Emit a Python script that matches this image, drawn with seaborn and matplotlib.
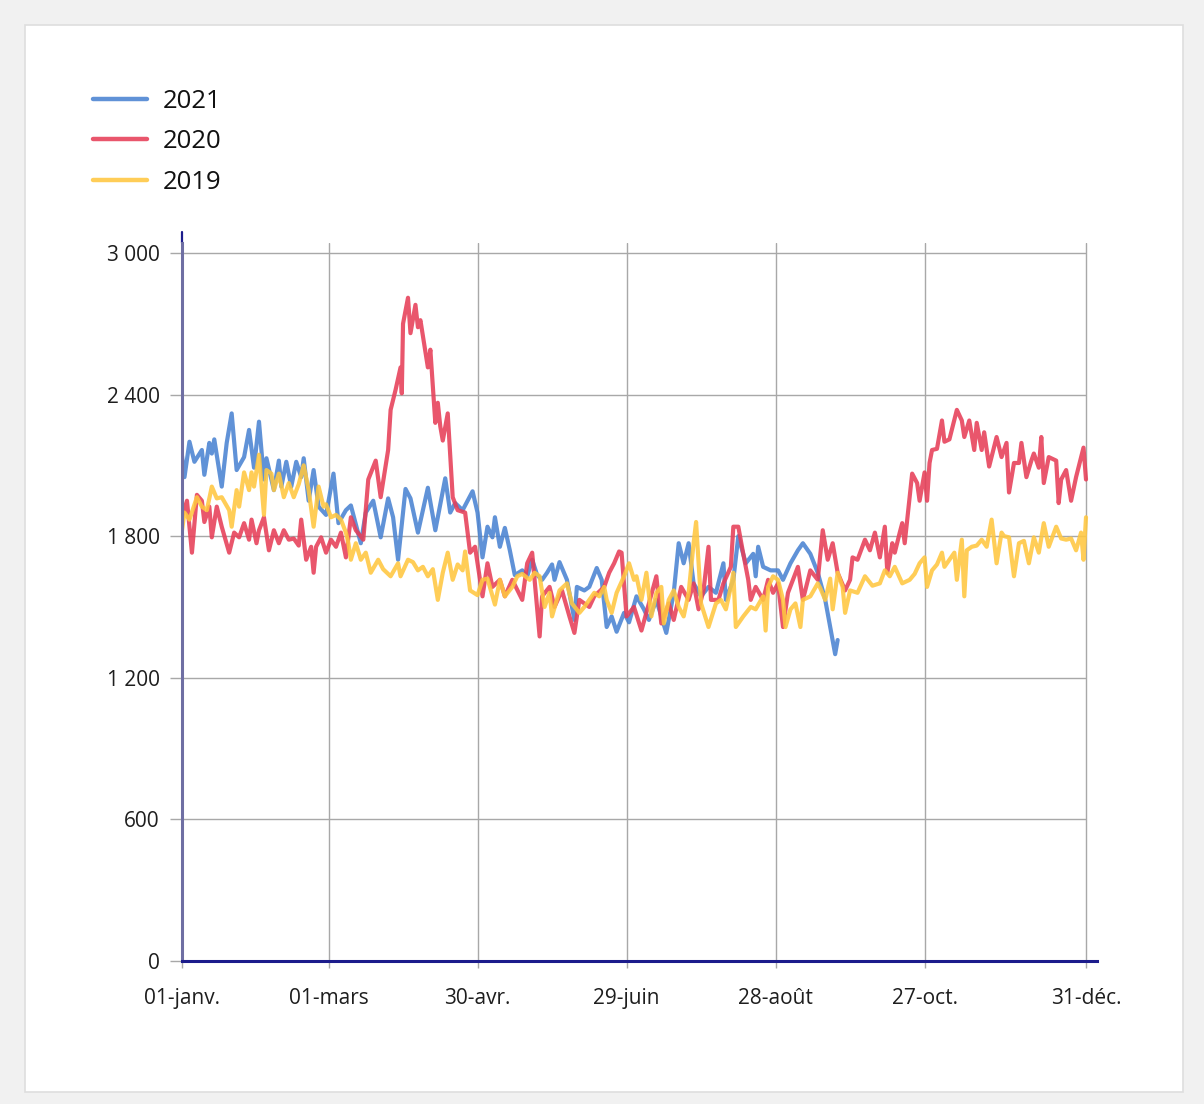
import matplotlib
matplotlib.use("Agg")
import matplotlib.pyplot as plt
import seaborn as sns
import pandas as pd
from matplotlib.patches import Rectangle
from matplotlib.lines import Line2D

# ---------------- data ----------------
days_2021 = [0, 1, 3, 5, 8, 9, 11, 12, 13, 16, 18, 20, 22, 25, 27, 29, 31, 33, 34, 37, 39, 40, 42, 44, 46, 48, 49,
             51, 53, 55, 58, 61, 63, 66, 68, 72, 74, 77, 80, 83, 85, 87, 90, 92, 95, 99, 102, 106, 108, 110, 113,
             117, 119, 121, 123, 125, 126, 128, 130, 132, 134, 137, 139, 141, 143, 145, 147, 149, 150, 152, 155,
             158, 159, 162, 164, 167, 169, 171, 173, 175, 178, 180, 183, 186, 188, 191, 195, 198, 200, 202, 204,
             206, 209, 212, 215, 218, 219, 222, 224, 227, 230, 231, 232, 234, 237, 240, 242, 245, 248, 250, 253,
             256, 259, 261, 263, 264]
vals_2021 = [2140, 2050, 2200, 2115, 2165, 2060, 2195, 2150, 2210, 2010, 2195, 2320, 2080, 2135, 2250, 2090, 2285,
             2040, 2130, 1995, 2120, 2010, 2115, 2010, 2115, 2050, 2130, 1950, 2080, 1925, 1890, 2065, 1855, 1910,
             1930, 1770, 1900, 1950, 1795, 1960, 1880, 1700, 2000, 1960, 1815, 2005, 1825, 2045, 1900, 1940, 1910,
             1990, 1900, 1710, 1840, 1795, 1880, 1755, 1835, 1740, 1635, 1655, 1630, 1700, 1635, 1615, 1645, 1680,
             1615, 1690, 1615, 1445, 1585, 1570, 1585, 1665, 1615, 1415, 1460, 1395, 1475, 1435, 1545, 1490, 1445,
             1530, 1390, 1560, 1770, 1685, 1770, 1600, 1545, 1585, 1560, 1685, 1530, 1615, 1800, 1685, 1725, 1630,
             1755, 1670, 1655, 1655, 1615, 1685, 1740, 1770, 1725, 1645, 1530, 1415, 1300, 1360]

days_2020 = [0, 2, 4, 6, 8, 9, 11, 12, 14, 16, 19, 21, 23, 25, 27, 28, 30, 31, 33, 35, 37, 39, 41, 43, 45, 47, 48,
             50, 52, 53, 54, 56, 58, 60, 62, 64, 66, 68, 70, 73, 75, 78, 80, 83, 84, 86, 88, 88.5, 89, 91, 92, 94,
             95, 96, 99, 100, 102, 103, 104, 105, 107, 109, 111, 114, 116, 118, 121, 123, 125, 128, 130, 133, 137,
             139, 141, 144, 145, 148, 150, 153, 156, 158, 160, 164, 166, 170, 172, 174, 176, 177, 179, 182, 185,
             188, 191, 193, 196, 198, 201, 204, 206, 208, 210, 212, 213, 216, 218, 221, 222, 224, 226, 228, 229,
             231, 234, 236, 238, 240, 242, 244, 246, 248, 250, 253, 256, 258, 260, 262, 264, 267, 269, 270, 272,
             275, 277, 279, 281, 283, 284, 286, 287, 289, 290, 291, 294, 296, 297, 299, 300, 301, 302, 304, 306,
             307, 309, 312, 314, 315, 317, 319, 320, 322, 323, 325, 328, 330, 332, 333, 335, 337, 338, 340, 342,
             343, 345, 346, 347, 349, 352, 353, 354, 356, 358, 360, 363, 364]
vals_2020 = [1880, 1950, 1730, 1975, 1950, 1860, 1925, 1795, 1925, 1840, 1730, 1815, 1795, 1855, 1785, 1870, 1770,
             1825, 1880, 1740, 1825, 1770, 1825, 1785, 1790, 1760, 1870, 1700, 1755, 1645, 1755, 1795, 1730, 1785,
             1755, 1815, 1710, 1880, 1825, 1785, 2040, 2120, 1965, 2165, 2335, 2420, 2515, 2405, 2700, 2810, 2660,
             2780, 2685, 2715, 2515, 2590, 2280, 2365, 2265, 2205, 2320, 1965, 1910, 1900, 1730, 1755, 1545, 1685,
             1585, 1615, 1545, 1615, 1530, 1685, 1730, 1375, 1545, 1585, 1500, 1570, 1460, 1390, 1530, 1500, 1545,
             1585, 1645, 1685, 1735, 1730, 1460, 1500, 1400, 1515, 1630, 1430, 1515, 1445, 1585, 1530, 1600, 1490,
             1570, 1755, 1530, 1530, 1600, 1670, 1840, 1840, 1725, 1615, 1530, 1585, 1530, 1615, 1560, 1600, 1415,
             1560, 1615, 1670, 1530, 1655, 1615, 1825, 1700, 1770, 1645, 1570, 1615, 1710, 1700, 1785, 1740, 1815,
             1710, 1840, 1645, 1770, 1730, 1815, 1855, 1770, 2065, 2025, 1950, 2070, 1950, 2110, 2165, 2170, 2290,
             2200, 2210, 2335, 2290, 2220, 2290, 2165, 2280, 2165, 2240, 2095, 2220, 2135, 2195, 1985, 2110, 2110,
             2195, 2050, 2120, 2150, 2090, 2220, 2025, 2135, 2120, 1940, 2040, 2080, 1950, 2050, 2175, 2040]

days_2019 = [0, 1, 3, 6, 8, 10, 12, 14, 16, 19, 20, 22, 23, 25, 27, 28, 29, 31, 33, 34, 36, 37, 39, 41, 43, 45, 47,
             49, 51, 53, 55, 57, 58, 60, 62, 64, 66, 67, 68, 70, 72, 74, 76, 79, 81, 84, 87, 88, 91, 93, 95, 97, 99,
             101, 103, 105, 107, 109, 111, 113, 114, 116, 119, 121, 123, 126, 128, 130, 133, 135, 137, 140, 142,
             144, 146, 148, 149, 152, 155, 157, 160, 162, 164, 166, 168, 170, 171, 173, 175, 178, 180, 182, 183,
             185, 187, 189, 191, 193, 194, 196, 198, 200, 202, 204, 206, 207, 208, 209, 212, 215, 217, 219, 221,
             222, 223, 226, 229, 231, 234, 235, 236, 238, 240, 242, 243, 245, 247, 249, 250, 253, 256, 257, 259,
             261, 262, 264, 266, 267, 269, 272, 275, 278, 281, 283, 285, 287, 290, 293, 295, 297, 299, 300, 302,
             304, 306, 307, 309, 311, 312, 314, 315, 316, 318, 320, 322, 324, 326, 328, 330, 331, 333, 335, 337,
             339, 341, 343, 345, 347, 349, 352, 354, 356, 358, 360, 362, 363, 364]
vals_2019 = [1825, 1900, 1870, 1965, 1925, 1910, 2010, 1960, 1965, 1910, 1840, 1995, 1925, 2070, 1995, 2070, 2010,
             2145, 1890, 2080, 2065, 1995, 2065, 1965, 2025, 1965, 2020, 2100, 1995, 1840, 2010, 1925, 1935, 1880,
             1890, 1870, 1815, 1770, 1700, 1770, 1700, 1730, 1645, 1700, 1660, 1630, 1685, 1630, 1700, 1690, 1655,
             1670, 1630, 1660, 1530, 1645, 1730, 1615, 1680, 1655, 1735, 1570, 1550, 1615, 1620, 1510, 1615, 1545,
             1585, 1630, 1640, 1615, 1645, 1630, 1500, 1560, 1460, 1570, 1600, 1515, 1475, 1500, 1530, 1560, 1545,
             1585, 1530, 1475, 1560, 1630, 1685, 1615, 1630, 1530, 1645, 1460, 1560, 1585, 1430, 1530, 1570, 1500,
             1460, 1560, 1770, 1860, 1685, 1515, 1415, 1515, 1530, 1490, 1585, 1645, 1415, 1460, 1500, 1490, 1545,
             1400, 1585, 1630, 1615, 1530, 1415, 1490, 1515, 1415, 1530, 1545, 1600, 1580, 1530, 1620, 1490, 1645,
             1585, 1475, 1570, 1560, 1630, 1590, 1600, 1655, 1630, 1670, 1600, 1615, 1640, 1685, 1710, 1585, 1655,
             1680, 1730, 1670, 1700, 1730, 1615, 1785, 1545, 1740, 1755, 1760, 1785, 1755, 1870, 1685, 1815, 1800,
             1795, 1630, 1770, 1780, 1685, 1795, 1730, 1855, 1755, 1840, 1790, 1785, 1790, 1740, 1815, 1700, 1880]

years = ["2021", "2020", "2019"]
tick_days = [0, 59, 119, 179, 239, 299, 364]
tick_labels = ["01-janv.", "01-mars", "30-avr.", "29-juin", "28-août", "27-oct.", "31-déc."]
y_ticks = [0, 600, 1200, 1800, 2400, 3000]
y_labels = ["0", "600", "1 200", "1 800", "2 400", "3 000"]
palette = {"2021": "#4a83d2", "2020": "#e63e58", "2019": "#ffc740"}

# ---------------- figure ----------------
sns.set_theme(style="white")
plt.rcParams["font.family"] = ["Open Sans", "DejaVu Sans"]

W, H = 1204, 1104
fig = plt.figure(figsize=(W / 100, H / 100), dpi=100, facecolor="#f1f1f1")
panel = Rectangle((25 / W, 1 - 1092 / H), (1183 - 25) / W, (1092 - 25) / H,
                  transform=fig.transFigure, facecolor="white",
                  edgecolor="#dedede", lw=1.2, zorder=-10)
fig.patches.append(panel)
ax = fig.add_axes([182 / W, 1 - 961 / H, 915 / W, 718 / H])
ax.set_zorder(5)
ax.set_facecolor("white")

df = pd.concat([
    pd.DataFrame({"jour": days_2021, "deces": vals_2021, "annee": "2021"}),
    pd.DataFrame({"jour": days_2020, "deces": vals_2020, "annee": "2020"}),
    pd.DataFrame({"jour": days_2019, "deces": vals_2019, "annee": "2019"}),
], ignore_index=True)

sns.lineplot(data=df, x="jour", y="deces", hue="annee", hue_order=years, palette=palette,
             estimator=None, sort=False, lw=3.0, alpha=0.88, ax=ax, zorder=3)

px_per_day = 904 / 364
ax.set_xlim(0, 915 / px_per_day)
ax.set_ylim(0, 3042)

ax.set_xticks(tick_days, tick_labels)
ax.set_yticks(y_ticks, y_labels)
ax.set_xlabel("")
ax.set_ylabel("")

grid_c = "#a8a8a8"
ax.grid(axis="x", color=grid_c, lw=1)
ax.grid(axis="y", visible=False)
ax.hlines(y_ticks[1:], 0, 364, color=grid_c, lw=1, zorder=1)
ax.tick_params(axis="y", left=True, length=8.6, width=1, color=grid_c, pad=7.5,
               labelsize=15, labelcolor="#1e1e1e")
ax.tick_params(axis="x", bottom=True, length=5, width=1, color=grid_c, pad=14.5,
               labelsize=15, labelcolor="#1e1e1e")

for s in ["top", "right"]:
    ax.spines[s].set_visible(False)
ax.spines["left"].set_color("#6f6fa3")
ax.spines["left"].set_linewidth(2.2)
ax.spines["bottom"].set_color("#1c1c8c")
ax.spines["bottom"].set_linewidth(2.2)
ax.spines["left"].set_zorder(4)
ax.spines["bottom"].set_zorder(4)
ax.add_line(Line2D([0, 0], [3042, 3089], color="#1c1c8c", lw=1.6, clip_on=False, zorder=4))

handles, labels = ax.get_legend_handles_labels()
if ax.get_legend() is not None:
    ax.get_legend().remove()
for h in handles:
    h.set_linewidth(3.2)
leg = fig.legend(handles, labels, loc="upper left", bbox_to_anchor=(93 / W, 1 - 89 / H),
                 frameon=False, fontsize=18.5, handlelength=2.1, handletextpad=0.6,
                 labelspacing=0.6, borderpad=0, borderaxespad=0)
for t in leg.get_texts():
    t.set_color("#111111")

fig.savefig("out.png", dpi=100, facecolor=fig.get_facecolor())
